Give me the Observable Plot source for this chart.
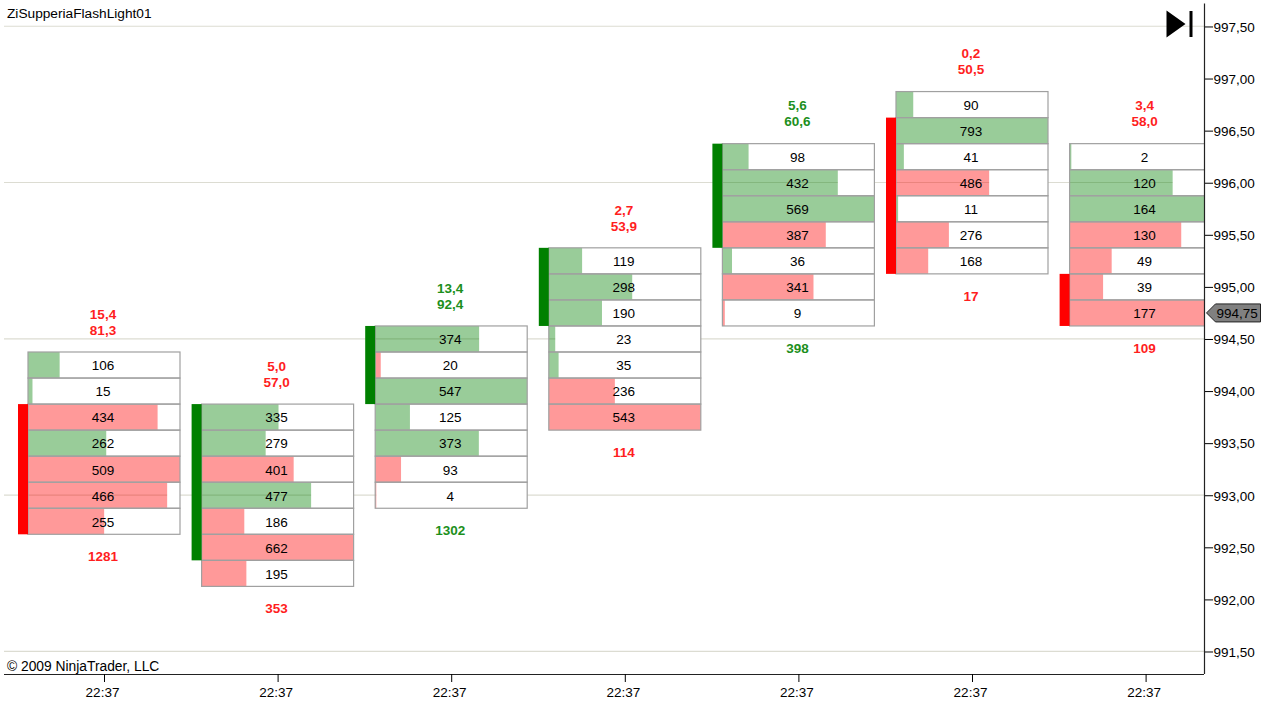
<!DOCTYPE html>
<html>
<head>
<meta charset="utf-8">
<style>html,body{margin:0;padding:0;background:#fff}svg{display:block}</style>
<script src="https://cdn.jsdelivr.net/npm/d3@7"></script>
<script src="https://cdn.jsdelivr.net/npm/@observablehq/plot@0.6"></script>
</head>
<body>
<div id="chart"></div>
<script>
const timeLabels = ["22:37","22:37","22:37","22:37","22:37","22:37","22:37"];
const topPrices = [994.25, 993.75, 994.5, 995.25, 996.25, 996.75, 996.25];
const volumes = [
  [106,15,434,262,509,466,255],
  [335,279,401,477,186,662,195],
  [374,20,547,125,373,93,4],
  [119,298,190,23,35,236,543],
  [98,432,569,387,36,341,9],
  [90,793,41,486,11,276,168],
  [2,120,164,130,49,39,177]
];
const sides = [
  ["g","g","r","g","r","r","r"],
  ["g","g","r","g","r","r","r"],
  ["g","r","g","g","g","r","r"],
  ["g","g","g","g","g","r","r"],
  ["g","g","g","r","g","r","r"],
  ["g","g","g","r","g","r","r"],
  ["g","g","g","r","r","r","r"]
];
const bodyHigh = [993.75, 993.75, 994.5, 995.25, 996.25, 996.5, 995.0];
const bodyLow = [992.75, 992.5, 994.0, 994.75, 995.5, 995.25, 994.75];
const bodyDir = ["r","g","g","g","g","r","r"];
const upperLabels = ["15,4","5,0","13,4","2,7","5,6","0,2","3,4"];
const lowerLabels = ["81,3","57,0","92,4","53,9","60,6","50,5","58,0"];
const totals = ["1281","353","1302","114","398","17","109"];
const labelDir = ["r","r","g","r","g","r","r"];
const priceTicks = [997.5,997,996.5,996,995.5,995,994.5,994,993.5,993,992.5,992,991.5];
const gridPrices = [997.5,996,994.5,993,991.5];
const lastPrice = 994.75;

const tick = 0.25, half = 0.125;
const step = 173.6;
const xDomain = [-100 / step, 1100 / step], yDomain = [991.284, 997.754];
const hw = 76 / step, sideW = 10 / step;
const comma = v => v.toFixed(2).replace(".", ",");
const cells = volumes.flatMap((row, i) => {
  const mx = d3.max(row);
  return row.map((v, j) => ({i, v, side: sides[i][j], price: topPrices[i] - j * tick, frac: v / mx}));
});
const bars = topPrices.map((p, i) => ({
  i, top: p + half, bottom: p - (volumes[i].length - 1) * tick - half,
  hi: bodyHigh[i] + half, lo: bodyLow[i] - half, dir: bodyDir[i],
  up: upperLabels[i], low: lowerLabels[i], total: totals[i], ld: labelDir[i]
}));
const RED = "#ff0000", GREEN = "#008000";
const textCol = d => d.ld === "r" ? "#ff1e1e" : "#1c8f1c";
const FONT = "Liberation Sans";
const boldFont = {fontFamily: FONT, fontWeight: "bold", fontSize: 13.5};

const playSymbol = {draw(c) {
  c.moveTo(-12, -13.5); c.lineTo(7, 0); c.lineTo(-12, 13.5); c.closePath();
  c.moveTo(11, -13); c.lineTo(14, -13); c.lineTo(14, 13); c.lineTo(11, 13); c.closePath();
}};
const priceTag = {draw(c) {
  c.moveTo(2, 0); c.lineTo(11, -9); c.lineTo(56, -9); c.lineTo(56, 9); c.lineTo(11, 9); c.closePath();
}};

const chart = Plot.plot({
  width: 1265, height: 702,
  marginLeft: 4, marginRight: 61, marginTop: 0, marginBottom: 28,
  style: {fontFamily: FONT, fontSize: "13.5px", background: "#fff", color: "#000"},
  x: {domain: xDomain, label: null},
  y: {domain: yDomain, label: null},
  marks: [
    Plot.ruleY(gridPrices, {y: d => d, dy: -0.7, stroke: "#dcdcd2", strokeWidth: 1.2}),
    Plot.rect(cells, {x1: d => d.i - hw + d.frac * 2 * hw, x2: d => d.i + hw, y1: d => d.price - half, y2: d => d.price + half, fill: "#fff", clip: true}),
    Plot.rect(cells, {x1: d => d.i - hw, x2: d => d.i - hw + d.frac * 2 * hw, y1: d => d.price - half, y2: d => d.price + half, fill: d => d.side === "r" ? RED : GREEN, fillOpacity: 0.4, clip: true}),
    Plot.rect(cells, {x1: d => d.i - hw, x2: d => d.i + hw, y1: d => d.price - half, y2: d => d.price + half, fill: "none", stroke: "#a0a0a0", strokeWidth: 1.2, clip: true}),
    Plot.rect(bars, {x1: d => d.i - hw - sideW, x2: d => d.i - hw, y1: "lo", y2: "hi", fill: d => d.dir === "r" ? RED : GREEN}),
    Plot.text(cells, {x: "i", y: "price", dx: -1.5, dy: 0.5, text: d => String(d.v), fill: "#000", fontSize: 13.5}),
    Plot.text(bars, {x: "i", y: "top", dx: -1.5, dy: -38, text: "up", fill: textCol, ...boldFont}),
    Plot.text(bars, {x: "i", y: "top", dx: -1.5, dy: -22, text: "low", fill: textCol, ...boldFont}),
    Plot.text(bars, {x: "i", y: "bottom", dx: -1.5, dy: 22, text: "total", fill: textCol, ...boldFont}),
    Plot.ruleX([xDomain[1]], {y1: yDomain[0], y2: 997.72, stroke: "#222", strokeWidth: 1.2}),
    Plot.ruleY([yDomain[0]], {stroke: "#222", strokeWidth: 1.2}),
    Plot.axisY({anchor: "right", ticks: priceTicks, text: null, tickSize: 8, label: null}),
    Plot.axisY({anchor: "right", ticks: priceTicks, tickFormat: comma, tickSize: 0, tickPadding: 9, dy: 0.5, fontSize: 13.5, label: null}),
    Plot.axisX({ticks: d3.range(timeLabels.length), text: null, tickSize: 8, label: null}),
    Plot.axisX({ticks: d3.range(timeLabels.length), tickFormat: i => timeLabels[i], tickSize: 0, tickPadding: 13, dx: -2, fontSize: 13.5, label: null}),
    Plot.dot([0], {frameAnchor: "top-right", dx: -26, dy: 23.5, symbol: playSymbol, r: 10, fill: "#000", stroke: "none"}),
    Plot.dot([lastPrice], {x: () => xDomain[1], y: d => d, dy: -0.5, symbol: priceTag, r: 10, fill: "#808080", stroke: "#222", strokeWidth: 1}),
    Plot.text([lastPrice], {x: () => xDomain[1], y: d => d, dx: 12, text: comma, textAnchor: "start", fill: "#000", fontSize: 13.5}),
    Plot.text(["ZiSupperiaFlashLight01"], {frameAnchor: "top-left", dx: 2.5, dy: 8, text: d => d, fill: "#000", fontSize: 13.7}),
    Plot.text(["© 2009 NinjaTrader, LLC"], {frameAnchor: "bottom-left", dx: 2.5, dy: -4, text: d => d, fill: "#000", fontSize: 13.8})
  ]
});
document.getElementById("chart").append(chart);
</script>
</body>
</html>
